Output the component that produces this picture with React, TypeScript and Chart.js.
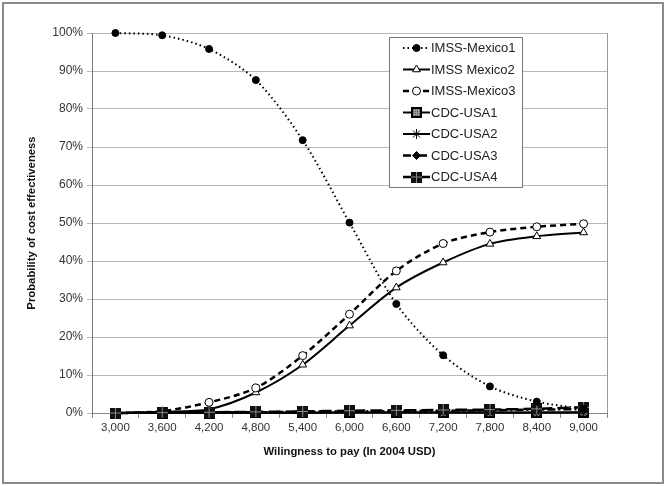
import React, { useEffect, useRef } from 'react';
import { Chart, registerables } from 'chart.js';
Chart.register(...registerables);

const categories = ['3,000', '3,600', '4,200', '4,800', '5,400', '6,000', '6,600', '7,200', '7,800', '8,400', '9,000'];
const imssMexico1 = [100, 99.4, 95.8, 87.6, 71.8, 50.1, 28.7, 15.2, 7.0, 3.0, 1.1];
const imssMexico2 = [0, 0.3, 1.0, 5.4, 12.7, 23.0, 33.0, 39.6, 44.5, 46.5, 47.5];
const imssMexico3 = [0, 0.5, 2.8, 6.6, 15.1, 26.0, 37.4, 44.6, 47.6, 49.0, 49.8];
const cdcUsa1 = [0, 0, 0, 0.1, 0.1, 0.1, 0.1, 0.1, 0.1, 0.1, 0.2];
const cdcUsa2 = [0, 0, 0, 0, 0, 0.1, 0.1, 0.1, 0.1, 0.1, 0.1];
const cdcUsa3 = [0, 0.1, 0.2, 0.2, 0.3, 0.4, 0.5, 0.6, 0.7, 0.9, 1.0];
const cdcUsa4 = [0, 0.1, 0.2, 0.3, 0.4, 0.6, 0.7, 0.8, 0.9, 1.1, 1.5];
const yTicks = [0, 10, 20, 30, 40, 50, 60, 70, 80, 90, 100];

const FONT = "'Liberation Sans', Arial, sans-serif";

function makeSquare(kind: 'pattern' | 'cross'): HTMLCanvasElement {
  const c = document.createElement('canvas');
  c.width = 11;
  c.height = 11;
  const g = c.getContext('2d')!;
  if (kind === 'pattern') {
    g.fillStyle = '#000';
    g.fillRect(0, 0, 11, 11);
    g.fillStyle = '#9a9a9a';
    g.fillRect(2, 2, 7, 7);
    g.fillStyle = '#555';
    for (let i = 2; i < 9; i += 2) for (let j = 2; j < 9; j += 2) g.fillRect(i, j, 1, 1);
  } else {
    g.fillStyle = '#111';
    g.fillRect(0, 0, 11, 11);
    g.fillStyle = '#8a8a8a';
    g.fillRect(5, 0, 1, 11);
    g.fillRect(0, 5, 11, 1);
  }
  return c;
}

function drawMarker(ctx: CanvasRenderingContext2D, ds: any, x: number, y: number) {
  const style = ds.pointStyle;
  const r = ds.pointRadius;
  ctx.save();
  ctx.lineWidth = 1;
  ctx.strokeStyle = ds.pointBorderColor;
  ctx.fillStyle = ds.pointBackgroundColor;
  ctx.setLineDash([]);
  if (style instanceof HTMLCanvasElement) {
    ctx.drawImage(style, x - style.width / 2, y - style.height / 2);
  } else if (style === 'circle') {
    ctx.beginPath();
    ctx.arc(x, y, r, 0, Math.PI * 2);
    ctx.fill();
    ctx.stroke();
  } else if (style === 'triangle') {
    ctx.beginPath();
    ctx.moveTo(x, y - r);
    ctx.lineTo(x + r * 0.866, y + r * 0.5);
    ctx.lineTo(x - r * 0.866, y + r * 0.5);
    ctx.closePath();
    ctx.fill();
    ctx.stroke();
  } else if (style === 'rectRot') {
    ctx.beginPath();
    ctx.moveTo(x, y - r);
    ctx.lineTo(x + r, y);
    ctx.lineTo(x, y + r);
    ctx.lineTo(x - r, y);
    ctx.closePath();
    ctx.fill();
    ctx.stroke();
  } else if (style === 'star') {
    ctx.beginPath();
    ctx.moveTo(x - r, y);
    ctx.lineTo(x + r, y);
    ctx.moveTo(x, y - r);
    ctx.lineTo(x, y + r);
    const d = r * 0.707;
    ctx.moveTo(x - d, y - d);
    ctx.lineTo(x + d, y + d);
    ctx.moveTo(x - d, y + d);
    ctx.lineTo(x + d, y - d);
    ctx.stroke();
  }
  ctx.restore();
}

const framePlugin = {
  id: 'frame',
  beforeDraw(chart: any) {
    const ctx = chart.ctx;
    ctx.save();
    ctx.fillStyle = '#fff';
    ctx.fillRect(0, 0, chart.width, chart.height);
    ctx.restore();
  },
  afterDraw(chart: any) {
    const ctx = chart.ctx;
    const a = chart.chartArea;
    ctx.save();
    ctx.strokeStyle = '#8a8a8a';
    ctx.lineWidth = 2;
    ctx.strokeRect(3, 3, chart.width - 6, chart.height - 6);
    ctx.lineWidth = 1;
    ctx.strokeStyle = '#999';
    ctx.beginPath();
    ctx.moveTo(Math.round(a.right) + 0.5, a.top);
    ctx.lineTo(Math.round(a.right) + 0.5, a.bottom);
    ctx.stroke();
    // legend
    const lx = 389.5, ly = 37.5, lw = 133, lh = 150;
    ctx.fillStyle = '#fff';
    ctx.fillRect(lx, ly, lw, lh);
    ctx.strokeStyle = '#777';
    ctx.lineWidth = 1;
    ctx.strokeRect(lx, ly, lw, lh);
    const items = chart.data.datasets;
    ctx.font = `13px ${FONT}`;
    ctx.textBaseline = 'middle';
    ctx.textAlign = 'left';
    items.forEach((ds: any, i: number) => {
      const y = 48 + i * 21.5;
      ctx.save();
      ctx.strokeStyle = ds.borderColor;
      ctx.lineWidth = ds.borderWidth;
      ctx.setLineDash(ds.borderDash || []);
      ctx.beginPath();
      ctx.moveTo(403, y);
      ctx.lineTo(430, y);
      ctx.stroke();
      ctx.restore();
      drawMarker(ctx, ds, 416.5, y);
      ctx.fillStyle = '#222';
      ctx.fillText(ds.label, 431, y + 0.5);
    });
    ctx.restore();
  },
};

export default function App() {
  const ref = useRef<HTMLCanvasElement>(null);
  useEffect(() => {
    document.body.style.margin = '0';
    const sqPattern = makeSquare('pattern');
    const sqCross = makeSquare('cross');
    const mk = (label: string, data: number[], dash: number[], width: number, pointStyle: any, radius: number, fill: string, order: number) => ({
      label,
      data,
      order,
      clip: false,
      borderColor: '#000',
      borderWidth: width,
      borderDash: dash,
      pointStyle,
      pointRadius: radius,
      pointBackgroundColor: fill,
      pointBorderColor: '#000',
      pointBorderWidth: 1,
      tension: 0.3,
      fill: false,
    });
    const chart = new Chart(ref.current!, {
      type: 'line',
      data: {
        labels: categories,
        datasets: [
          mk('IMSS-Mexico1', imssMexico1, [1.5, 3], 2, 'circle', 3.5, '#000', 1),
          mk('IMSS Mexico2', imssMexico2, [], 2, 'triangle', 4.5, '#fff', 7),
          mk('IMSS-Mexico3', imssMexico3, [6, 4], 2.5, 'circle', 4, '#fff', 6),
          mk('CDC-USA1', cdcUsa1, [], 2, sqPattern, 5, '#999', 5),
          mk('CDC-USA2', cdcUsa2, [], 2, 'star', 5, '#000', 4),
          mk('CDC-USA3', cdcUsa3, [8, 3, 2, 3], 2.5, 'rectRot', 4, '#000', 3),
          mk('CDC-USA4', cdcUsa4, [12, 5], 2.5, sqCross, 5, '#000', 2),
        ],
      },
      options: {
        animation: false,
        responsive: false,
        devicePixelRatio: 1,
        layout: { padding: { top: 33, right: 59, left: 0, bottom: 0 } },
        plugins: { legend: { display: false }, tooltip: { enabled: false } },
        scales: {
          x: {
            offset: true,
            afterFit: (s: any) => { s.height = 73; },
            grid: { drawOnChartArea: false, offset: true, tickLength: 5, color: '#888' },
            border: { color: '#888' },
            ticks: { color: '#333', font: { family: FONT, size: 11.5 }, padding: 3, maxRotation: 0, autoSkip: false },
            title: { display: true, text: 'Wilingness to pay (In 2004 USD)', color: '#111', font: { family: FONT, size: 11.3, weight: 'bold' }, padding: { top: 0, bottom: 27 } },
          },
          y: {
            min: 0,
            max: 100,
            afterFit: (s: any) => { s.width = 92; },
            afterBuildTicks: (s: any) => { s.ticks = yTicks.map((v) => ({ value: v })); },
            grid: { color: '#b8b8b8', tickLength: 5 },
            border: { color: '#777' },
            ticks: { color: '#333', font: { family: FONT, size: 12 }, padding: 4, callback: (v: any) => `${v}%` },
            title: { display: true, text: 'Probability of cost effectiveness', color: '#111', font: { family: FONT, size: 11.3, weight: 'bold' }, padding: { top: 25, bottom: 0 } },
          },
        },
      },
      plugins: [framePlugin],
    } as any);
    return () => chart.destroy();
  }, []);
  return (
    <div style={{ position: 'absolute', left: 0, top: 0, width: 666, height: 486 }}>
      <canvas ref={ref} width={666} height={486} style={{ width: 666, height: 486, display: 'block' }} />
    </div>
  );
}
